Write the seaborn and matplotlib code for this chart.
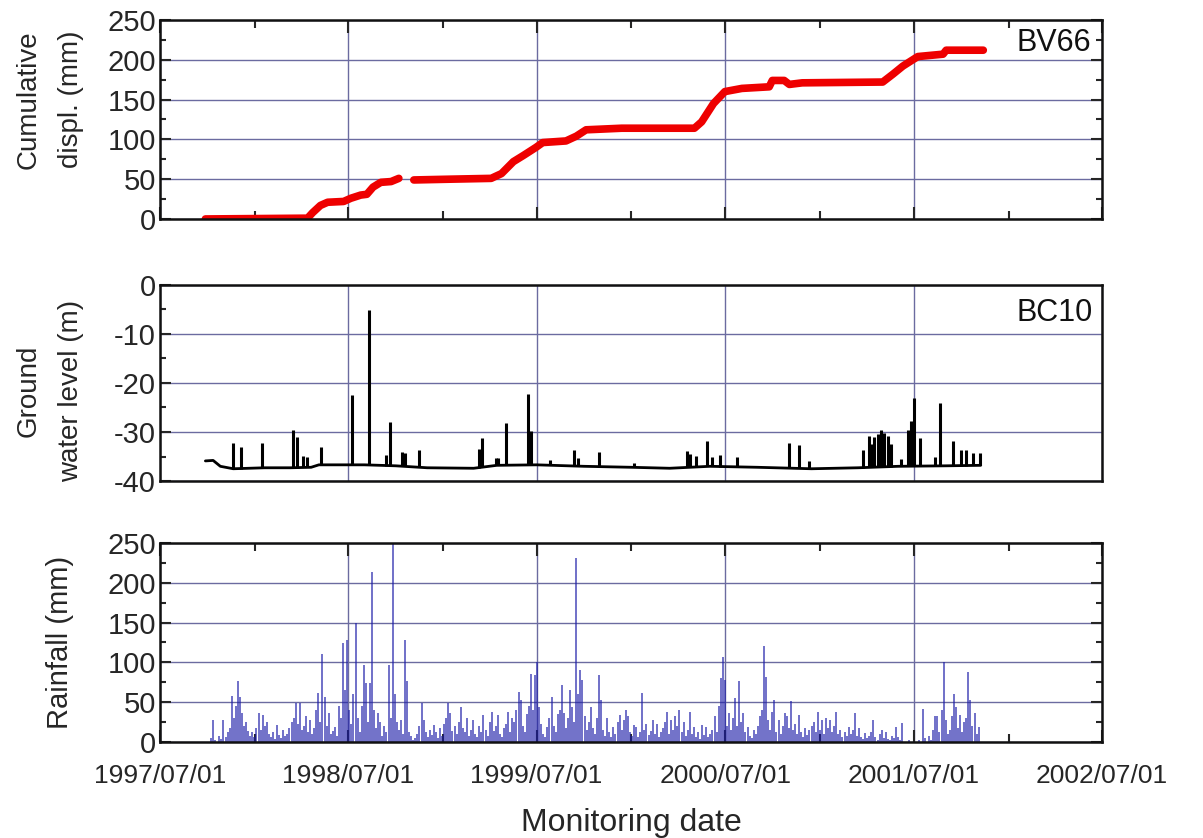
import matplotlib
matplotlib.use("Agg")
import numpy as np
import pandas as pd
import matplotlib.pyplot as plt
import matplotlib.dates as mdates
import matplotlib.ticker as mticker
import seaborn as sns

# ---------------- data ----------------
# Cumulative displacement at extensometer BV66 (two recorded stretches)
disp_dates_a = ['1997-09-27', '1998-04-13', '1998-04-23', '1998-05-08', '1998-05-22',
                '1998-06-22', '1998-07-06', '1998-07-25', '1998-08-06', '1998-08-18',
                '1998-09-02', '1998-09-22', '1998-10-07']
disp_mm_a = [0, 1, 8, 17, 21, 22, 26, 30, 31, 40, 46, 47, 51]

disp_dates_b = ['1998-11-05', '1999-01-16', '1999-04-04', '1999-04-24', '1999-05-17',
                '1999-06-06', '1999-06-30', '1999-07-13', '1999-08-27', '1999-09-16',
                '1999-10-05', '1999-12-13', '2000-02-08', '2000-05-02', '2000-05-16',
                '2000-06-08', '2000-06-30', '2000-08-02', '2000-09-24', '2000-09-30',
                '2000-10-23', '2000-11-02', '2000-11-27', '2001-05-02', '2001-05-22',
                '2001-06-10', '2001-07-09', '2001-08-27', '2001-09-02', '2001-11-13']
disp_mm_b = [49, 50, 51, 57, 72, 80, 90, 96, 98, 104,
             112, 114, 114, 114, 122, 145, 160, 164, 166, 174,
             174, 169, 171, 172, 182, 192, 204, 207, 212, 212]

# Ground water level at borehole BC10: background level ...
gw_base_dates = ['1997-09-27', '1997-10-12', '1997-10-26', '1997-11-20', '1998-01-20',
                 '1998-03-10', '1998-04-20', '1998-05-05', '1998-08-01', '1998-10-01',
                 '1998-12-01', '1999-03-01', '1999-04-15', '1999-07-01', '1999-10-01',
                 '2000-01-01', '2000-03-15', '2000-06-01', '2000-09-01', '2000-12-15',
                 '2001-03-15', '2001-06-01', '2001-09-01', '2001-11-08']
gw_base_m = [-35.9, -35.8, -37.0, -37.5, -37.3, -37.3, -37.2, -36.7, -36.7, -36.9,
             -37.3, -37.4, -36.8, -36.7, -37.0, -37.2, -37.4, -37.0, -37.2, -37.5,
             -37.3, -37.0, -36.9, -36.8]

# ... and short-lived rises after storms
gw_peak_dates = ['1997-11-19', '1997-12-05', '1998-01-15', '1998-03-16', '1998-03-24',
                 '1998-04-05', '1998-04-12', '1998-05-10', '1998-07-08', '1998-08-11',
                 '1998-09-13', '1998-09-20', '1998-10-14', '1998-10-19', '1998-11-16',
                 '1999-03-12', '1999-03-18', '1999-04-13', '1999-04-18', '1999-05-03',
                 '1999-06-15', '1999-06-21', '1999-07-27', '1999-09-12', '1999-09-20',
                 '1999-10-30', '2000-01-05', '2000-04-18', '2000-04-23', '2000-05-06',
                 '2000-05-27', '2000-06-05', '2000-06-20', '2000-07-24', '2000-11-02',
                 '2000-11-21', '2000-12-10', '2001-03-24', '2001-04-06', '2001-04-11',
                 '2001-04-16', '2001-04-22', '2001-04-28', '2001-05-02', '2001-05-05',
                 '2001-05-12', '2001-05-18', '2001-06-07', '2001-06-20', '2001-06-26',
                 '2001-07-01', '2001-07-14', '2001-08-11', '2001-08-22', '2001-09-15',
                 '2001-10-01', '2001-10-11', '2001-10-24', '2001-11-06']
gw_peak_m = [-32.3, -33.1, -32.3, -29.5, -31.0, -34.8, -35.0, -33.1, -22.5, -5.1,
             -34.6, -28.0, -34.0, -34.2, -33.6, -33.4, -31.2, -35.3, -35.3, -28.1,
             -22.2, -29.8, -35.7, -33.6, -35.3, -34.1, -36.3, -33.9, -34.5, -34.8,
             -31.9, -35.0, -34.6, -35.0, -32.2, -32.7, -35.9, -33.6, -30.8, -32.5,
             -31.0, -30.5, -29.5, -31.5, -30.2, -30.8, -32.5, -35.5, -29.5, -27.8,
             -23.1, -31.2, -35.2, -24.1, -31.9, -33.6, -33.6, -34.2, -34.2]

# Rainfall totals, one value per 4-day step from rain_start
rain_start = '1997-10-08'
rain_step = '4D'
rain_mm = [
    5, 28, 3, 0, 8, 4, 28, 6, 12, 18,
    58, 30, 45, 76, 57, 36, 20, 25, 14, 8,
    12, 6, 18, 37, 15, 34, 20, 25, 10, 6,
    12, 4, 21, 9, 5, 15, 7, 10, 18, 25,
    30, 49, 22, 49, 15, 20, 32, 12, 28, 10,
    18, 40, 62, 25, 111, 57, 20, 36, 10, 14,
    19, 8, 45, 30, 124, 65, 128, 40, 22, 60,
    149, 30, 12, 45, 97, 74, 25, 74, 214, 40,
    18, 36, 25, 8, 20, 12, 97, 30, 300, 60,
    25, 15, 28, 10, 128, 76, 12, 8, 3, 5,
    10, 20, 49, 28, 12, 6, 15, 9, 21, 12,
    5, 18, 8, 22, 30, 49, 36, 14, 20, 10,
    25, 44, 18, 12, 30, 8, 15, 28, 10, 6,
    20, 12, 34, 15, 8, 25, 38, 14, 20, 34,
    10, 6, 18, 22, 38, 12, 30, 25, 40, 63,
    53, 20, 12, 35, 45, 86, 40, 84, 100, 44,
    22, 10, 6, 19, 30, 57, 20, 12, 35, 40,
    72, 36, 18, 30, 65, 44, 25, 231, 60, 90,
    78, 32, 15, 25, 44, 18, 10, 30, 84, 53,
    15, 8, 30, 12, 6, 19, 10, 25, 34, 15,
    28, 40, 32, 12, 8, 21, 19, 6, 12, 61,
    15, 23, 9, 14, 28, 10, 23, 6, 12, 18,
    25, 38, 10, 28, 15, 32, 20, 40, 12, 25,
    8, 15, 38, 10, 19, 6, 12, 4, 21, 9,
    19, 6, 10, 15, 32, 12, 45, 80, 107, 78,
    20, 36, 15, 30, 55, 20, 76, 25, 36, 12,
    19, 8, 5, 15, 10, 20, 32, 40, 120, 82,
    28, 15, 38, 53, 12, 28, 10, 20, 36, 32,
    18, 51, 15, 22, 10, 34, 12, 6, 18, 9,
    15, 20, 25, 12, 38, 15, 28, 10, 30, 18,
    28, 12, 20, 38, 10, 15, 6, 12, 8, 19,
    10, 15, 36, 8, 17, 6, 4, 11, 5, 8,
    12, 28, 6, 3, 10, 15, 5, 13, 4, 2,
    8, 5, 19, 6, 3, 24, 0, 0, 2, 0,
    0, 0, 0, 3, 0, 42, 5, 0, 8, 3,
    15, 32, 32, 12, 40, 100, 28, 10, 15, 32,
    60, 44, 18, 34, 12, 25, 30, 88, 53, 20,
    36, 10, 19,
]

x_range = ['1997-07-01', '2002-07-01']

# ---------------- tables ----------------
disp_df = pd.concat([
    pd.DataFrame({'date': pd.to_datetime(disp_dates_a), 'disp': disp_mm_a, 'run': 'a'}),
    pd.DataFrame({'date': pd.to_datetime(disp_dates_b), 'disp': disp_mm_b, 'run': 'b'}),
], ignore_index=True)
gw_df = pd.DataFrame({'date': pd.to_datetime(gw_base_dates), 'level': gw_base_m})
peak_dates = pd.to_datetime(gw_peak_dates)
rain_dates = pd.date_range(rain_start, periods=len(rain_mm), freq=rain_step)

# ---------------- style ----------------
sns.set_style('ticks')
plt.rcParams['font.family'] = ['Liberation Sans', 'DejaVu Sans']
plt.rcParams['axes.unicode_minus'] = False
grid_color = '#6b6ba0'
label_size = 20
ytick_size = 21
xtick_size = 19
tag_size = 22

fig = plt.figure(figsize=(12.03, 8.38), dpi=100)
ax1 = fig.add_axes([0.133, 0.7387, 0.783, 0.2375])
ax2 = fig.add_axes([0.133, 0.4260, 0.783, 0.2340])
ax3 = fig.add_axes([0.133, 0.1146, 0.783, 0.2375])

xlim = [mdates.date2num(pd.Timestamp(d)) for d in x_range]

def style_axis(ax, ymin, ymax, major, minor, xticks=True, right=True):
    ax.set_xlim(*xlim)
    ax.set_ylim(ymin, ymax)
    ax.xaxis.set_major_locator(mdates.MonthLocator(bymonth=7, bymonthday=1))
    ax.xaxis.set_minor_locator(mdates.MonthLocator(bymonth=1, bymonthday=1))
    ax.xaxis.set_major_formatter(mdates.DateFormatter('%Y/%m/%d'))
    ax.yaxis.set_major_locator(mticker.MultipleLocator(major))
    ax.yaxis.set_minor_locator(mticker.MultipleLocator(minor))
    ax.grid(True, which='major', color=grid_color, linewidth=1.0, zorder=0)
    ax.set_axisbelow(True)
    for s in ax.spines.values():
        s.set_linewidth(1.8)
        s.set_color('#111111')
        s.set_zorder(5)
    ax.tick_params(axis='y', which='both', direction='in', left=True, right=right,
                   labelsize=ytick_size, width=1.5, pad=3)
    ax.tick_params(axis='y', which='major', length=8)
    ax.tick_params(axis='y', which='minor', length=4)
    if xticks:
        ax.tick_params(axis='x', which='both', direction='in', top=True, bottom=True,
                       width=1.5)
        ax.tick_params(axis='x', which='major', length=9)
        ax.tick_params(axis='x', which='minor', length=6)
    else:
        ax.tick_params(axis='x', which='both', length=0)
    ax.set_xlabel('')

# ---- cumulative displacement ----
sns.lineplot(data=disp_df, x='date', y='disp', units='run', estimator=None,
             color='#ee0000', linewidth=5.5, solid_capstyle='round', ax=ax1, zorder=3)
style_axis(ax1, 0, 250, 50, 25)
ax1.tick_params(axis='x', labelbottom=False)
ax1.set_ylabel('Cumulative\ndispl. (mm)', fontsize=label_size, linespacing=1.8)
ax1.yaxis.set_label_coords(-0.081, 0.6)
ax1.text(0.988, 0.962, 'BV66', transform=ax1.transAxes, ha='right', va='top',
         fontsize=tag_size, color='#111111')

# ---- ground water level ----
sns.lineplot(data=gw_df, x='date', y='level', color='black', linewidth=2.0, ax=ax2,
             zorder=3)
peak_base = np.interp(mdates.date2num(peak_dates), mdates.date2num(gw_df['date']),
                      gw_df['level'])
ax2.vlines(peak_dates, peak_base, gw_peak_m, color='black', linewidth=2.2, zorder=3)
style_axis(ax2, -40, 0, 10, 5, xticks=False, right=False)
ax2.tick_params(axis='x', labelbottom=False)
ax2.set_ylabel('Ground\nwater level (m)', fontsize=label_size, linespacing=1.8)
ax2.yaxis.set_label_coords(-0.081, 0.46)
ax2.text(0.990, 0.935, 'BC10', transform=ax2.transAxes, ha='right', va='top',
         fontsize=tag_size, color='#111111')

# ---- rainfall ----
ax3.vlines(rain_dates, 0, rain_mm, color='#1c1ca8', alpha=0.68, linewidth=1.3, zorder=3)
style_axis(ax3, 0, 250, 50, 25)
ax3.set_ylabel('Rainfall (mm)', fontsize=label_size + 1)
ax3.yaxis.set_label_coords(-0.091, 0.5)
ax3.tick_params(axis='x', which='major', labelsize=xtick_size, pad=16)
ax3.set_xlabel('Monitoring date', fontsize=23, labelpad=14)

fig.savefig('out.png', dpi=100)
